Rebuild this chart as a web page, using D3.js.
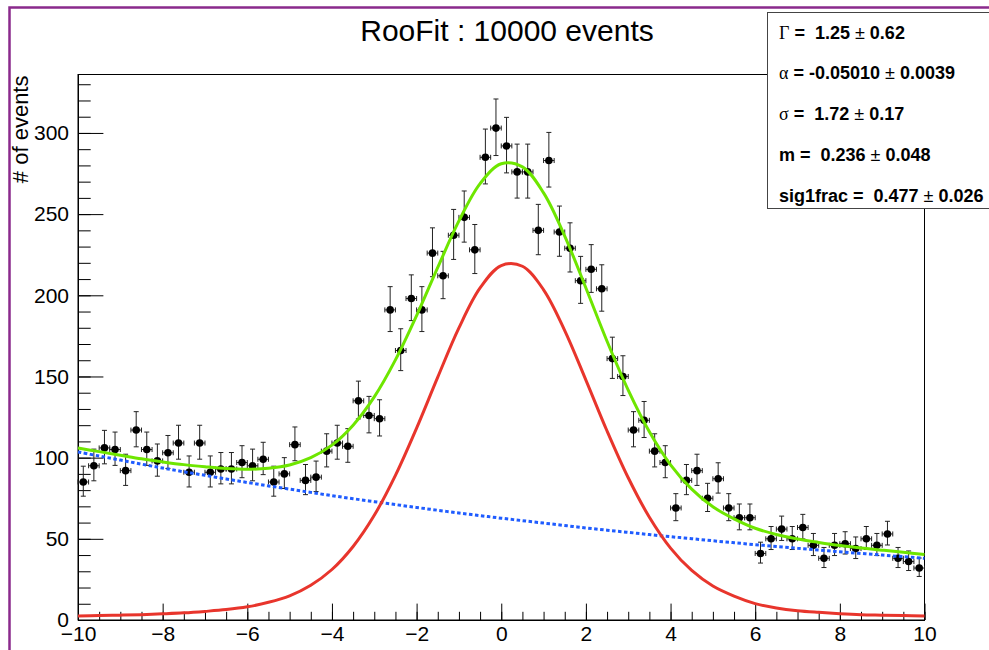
<!DOCTYPE html>
<html>
<head>
<meta charset="utf-8">
<script src="https://cdn.jsdelivr.net/npm/d3@7/dist/d3.min.js"></script>
<style>
  body { margin: 0; background: #fff; }
  text { font-family: "Liberation Sans", Arial, Helvetica, sans-serif; }
</style>
</head>
<body>
<script>
// histogram: 80 bins on [-10, 10]
const xRange = [-10, 10]
const nBins = 80
const counts = [
  85, 95, 106, 105, 92, 117, 105, 98, 103, 109,
  91, 109, 91, 93, 93, 97, 95, 99, 85, 90,
  108, 86, 88, 104, 109, 107, 135, 126, 124, 191,
  166, 198, 191, 226, 212, 237, 248, 228, 285, 303,
  292, 276, 276, 240, 283, 239, 229, 209, 216, 204,
  161, 150, 117, 123, 104, 97, 69, 86, 92, 75,
  87, 69, 63, 63, 41, 50, 56, 50, 57, 46,
  38, 46, 47, 44, 50, 46, 53, 38, 36, 32
]

// fitted curves, read every 0.5
const curveX = [
  -10, -9.5, -9, -8.5, -8, -7.5, -7, -6.5, -6, -5.5, -5, -4.5, -4, -3.5, -3, -2.5, -2, -1.5, -1, -0.5,
  0, 0.5, 1, 1.5, 2, 2.5, 3, 3.5, 4, 4.5, 5, 5.5, 6, 6.5, 7, 7.5, 8, 8.5, 9, 9.5, 10
]
const totalCurve = [
  105.9, 103.7, 101.5, 99.3, 97.4, 95.7, 94.4, 93.3, 92.8, 93.5, 95.5, 100.0, 107.7, 120.0, 137.4, 160.2, 187.5, 217.2, 245.8, 268.8,
  281.0, 279.1, 263.1, 236.5, 204.5, 171.7, 141.6, 115.9, 95.6, 80.6, 69.7, 62.3, 56.5, 52.7, 49.9, 47.8, 45.9, 44.3, 43.0, 41.7, 40.4
]
const sigCurve = [
  2.4, 2.7, 3.0, 3.3, 3.8, 4.4, 5.3, 6.4, 8.1, 10.9, 14.9, 21.4, 31.1, 45.3, 64.5, 89.1, 118.2, 149.6, 179.9, 204.5,
  218.3, 217.9, 203.4, 178.3, 147.8, 116.4, 87.6, 63.3, 44.3, 30.5, 20.9, 14.7, 10.1, 7.4, 5.7, 4.7, 3.9, 3.3, 3.0, 2.7, 2.4
]
const bkgCurve = [
  103.5, 101.0, 98.5, 96.0, 93.6, 91.3, 89.1, 86.9, 84.7, 82.6, 80.6, 78.6, 76.6, 74.7, 72.9, 71.1, 69.3, 67.6, 65.9, 64.3,
  62.7, 61.2, 59.7, 58.2, 56.7, 55.3, 54.0, 52.6, 51.3, 50.1, 48.8, 47.6, 46.4, 45.3, 44.2, 43.1, 42.0, 41.0, 40.0, 39.0, 38.0
]

const xTicks = [-10, -8, -6, -4, -2, 0, 2, 4, 6, 8, 10]
const yTicks = [0, 50, 100, 150, 200, 250, 300]
const yMax = 336

const statNames = ['\u0393', '\u03b1', '\u03c3', 'm', 'sig1frac']
const statValues = ['1.25', '-0.05010', '1.72', '0.236', '0.477']
const statErrors = ['0.62', '0.0039', '0.17', '0.048', '0.026']

const titleText = 'RooFit : 10000 events'
const yTitle = '# of events'

const W = 989, H = 650
const fL = 78, fR = 924.5, fT = 74.5, fB = 620

const svg = d3.select('body')
  .append('svg')
  .attr('width', W)
  .attr('height', H)

svg.append('rect')
  .attr('width', W)
  .attr('height', H)
  .attr('fill', '#fff')

// canvas border
svg.append('rect')
  .attr('x', 9.5)
  .attr('y', 7.5)
  .attr('width', W + 20)
  .attr('height', H + 20)
  .attr('fill', 'none')
  .attr('stroke', '#8a2a8c')
  .attr('stroke-width', 2.5)

const x = d3.scaleLinear().domain(xRange).range([fL, fR])
const y = d3.scaleLinear().domain([0, yMax]).range([fB, fT])

const binW = (xRange[1] - xRange[0]) / nBins
const bins = counts.map((c, i) => {
  const lo = xRange[0] + i * binW
  return {
    x0: lo,
    x1: lo + binW,
    xc: lo + binW / 2,
    n: c,
    eLo: Math.sqrt(c + 0.25) - 0.5,
    eHi: Math.sqrt(c + 0.25) + 0.5
  }
})

// frame
svg.append('rect')
  .attr('x', fL)
  .attr('y', fT)
  .attr('width', fR - fL)
  .attr('height', fB - fT)
  .attr('fill', 'none')
  .attr('stroke', '#000')
  .attr('stroke-width', 1)

// axes
const yMinor = d3.range(0, yMax, 10)
const xMinor = d3.range(-10, 10.01, 0.5)

const gy = svg.append('g').attr('transform', `translate(${fL},0)`)
gy.call(d3.axisLeft(y).tickValues(yMinor).tickSizeInner(-12.7).tickSizeOuter(0).tickFormat(''))
gy.append('g').call(d3.axisLeft(y).tickValues(yTicks).tickSizeInner(-25.4).tickSizeOuter(0).tickPadding(9))

const gx = svg.append('g').attr('transform', `translate(0,${fB})`)
gx.call(d3.axisBottom(x).tickValues(xMinor).tickSizeInner(-8.2).tickSizeOuter(0).tickFormat(''))
gx.append('g').call(d3.axisBottom(x).tickValues(xTicks).tickSizeInner(-16.4).tickSizeOuter(0).tickPadding(6))

svg.selectAll('.domain').attr('stroke', '#000')
svg.selectAll('.tick line').attr('stroke', '#000')
svg.selectAll('.tick text')
  .attr('fill', '#000')
  .style('font-size', '21px')
  .style('font-family', '"Liberation Sans", Arial, sans-serif')

// axis title
svg.append('text')
  .attr('transform', `translate(28,${fT + 1}) rotate(-90)`)
  .attr('text-anchor', 'end')
  .style('font-size', '22px')
  .text(yTitle)

// data points with errors
const pts = svg.append('g').attr('class', 'data')
const cap = 2.5

pts.selectAll('line.ey')
  .data(bins)
  .enter()
  .append('line')
  .attr('class', 'ey')
  .attr('x1', d => x(d.xc))
  .attr('x2', d => x(d.xc))
  .attr('y1', d => y(d.n - d.eLo))
  .attr('y2', d => y(d.n + d.eHi))
  .attr('stroke', '#222')

pts.selectAll('line.ex')
  .data(bins)
  .enter()
  .append('line')
  .attr('class', 'ex')
  .attr('x1', d => x(d.x0))
  .attr('x2', d => x(d.x1))
  .attr('y1', d => y(d.n))
  .attr('y2', d => y(d.n))
  .attr('stroke', '#222')

const caps = []
bins.forEach(d => {
  caps.push({x1: x(d.xc) - cap, x2: x(d.xc) + cap, y1: y(d.n + d.eHi), y2: y(d.n + d.eHi)})
  caps.push({x1: x(d.xc) - cap, x2: x(d.xc) + cap, y1: y(d.n - d.eLo), y2: y(d.n - d.eLo)})
  caps.push({x1: x(d.x0), x2: x(d.x0), y1: y(d.n) - cap, y2: y(d.n) + cap})
  caps.push({x1: x(d.x1), x2: x(d.x1), y1: y(d.n) - cap, y2: y(d.n) + cap})
})
pts.selectAll('line.cap')
  .data(caps)
  .enter()
  .append('line')
  .attr('class', 'cap')
  .attr('x1', d => d.x1)
  .attr('x2', d => d.x2)
  .attr('y1', d => d.y1)
  .attr('y2', d => d.y2)
  .attr('stroke', '#222')

pts.selectAll('circle')
  .data(bins)
  .enter()
  .append('circle')
  .attr('cx', d => x(d.xc))
  .attr('cy', d => y(d.n))
  .attr('r', 3.8)
  .attr('fill', '#000')

// curves
const line = d3.line()
  .x(d => x(d[0]))
  .y(d => y(d[1]))
  .curve(d3.curveCatmullRom)

const curves = [
  {vals: totalCurve, color: '#6ee600', dash: null},
  {vals: bkgCurve, color: '#1f5cff', dash: '3.5,2.5'},
  {vals: sigCurve, color: '#e8352c', dash: null}
]
curves.forEach(c => {
  svg.append('path')
    .datum(curveX.map((v, i) => [v, c.vals[i]]))
    .attr('d', line)
    .attr('fill', 'none')
    .attr('stroke', c.color)
    .attr('stroke-width', 3)
    .attr('stroke-dasharray', c.dash)
})

// title
svg.append('text')
  .attr('x', 507)
  .attr('y', 41)
  .attr('text-anchor', 'middle')
  .style('font-size', '30px')
  .text(titleText)

// stats box
const box = svg.append('g')
box.append('rect')
  .attr('x', 767.5)
  .attr('y', 12.5)
  .attr('width', 240)
  .attr('height', 196)
  .attr('fill', '#fff')
  .attr('stroke', '#444')
  .attr('stroke-width', 1)

statNames.forEach((name, i) => {
  const t = box.append('text')
    .attr('x', 779)
    .attr('y', 38.5 + i * 40.75)
    .style('font-size', '18px')
    .style('font-weight', 'bold')
    .style('white-space', 'pre')
  const greek = name.length === 1 && name !== 'm'
  t.append('tspan')
    .style('font-family', greek ? '"Liberation Serif", "DejaVu Serif", serif' : null)
    .style('font-weight', greek ? 'normal' : 'bold')
    .text(name)
  t.append('tspan').text(' = ' + (statValues[i][0] === '-' ? '' : ' ') + statValues[i] + ' ')
  t.append('tspan').style('font-weight', 'normal').text('\u00b1')
  t.append('tspan').text(' ' + statErrors[i])
})
</script>
</body>
</html>
